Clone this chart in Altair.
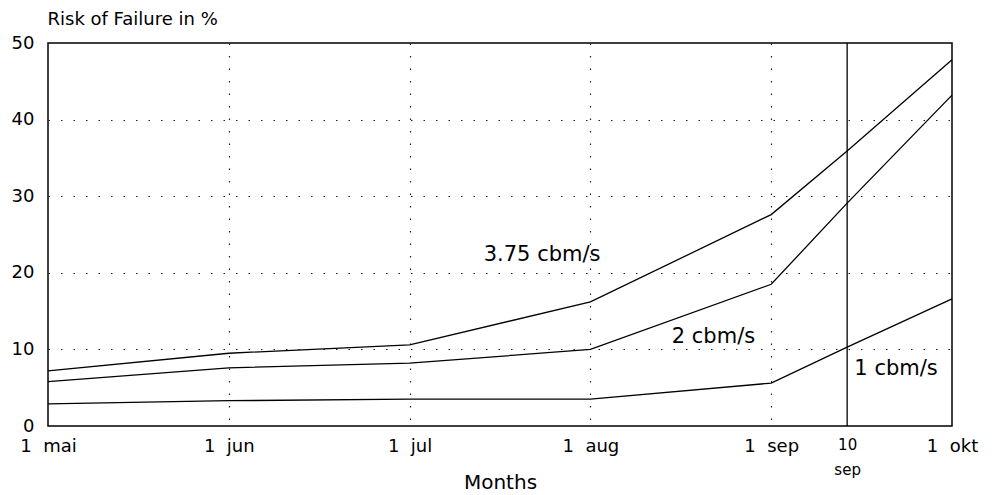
import altair as alt
import pandas as pd

# x positions (months since 1 mai; 10 sep sits between 1 sep and 1 okt)
tick_pos = [0, 1, 2, 3, 4, 4.42, 5]
tick_labels = ["1\u00a0\u00a0mai", "1\u00a0\u00a0jun", "1\u00a0\u00a0jul", "1\u00a0\u00a0aug",
               "1\u00a0\u00a0sep", "10|sep", "1\u00a0\u00a0okt"]

x_pts = [0, 1, 2, 3, 4, 4.42, 5]
risk_375 = [7.2, 9.5, 10.6, 16.2, 27.6, 35.9, 47.8]
risk_2 = [5.8, 7.6, 8.2, 10.0, 18.5, 29.1, 43.2]
risk_1 = [2.9, 3.3, 3.5, 3.5, 5.6, 10.3, 16.6]

series_names = ["3.75 cbm/s", "2 cbm/s", "1 cbm/s"]

ann_text = ["3.75 cbm/s", "2 cbm/s", "1 cbm/s"]
ann_x = [2.41, 3.45, 4.46]
ann_y = [21.6, 10.8, 6.7]

marker_x = [4.42]

rows = []
for name, vals in zip(series_names, [risk_375, risk_2, risk_1]):
    for xv, yv in zip(x_pts, vals):
        rows.append({"series": name, "x": xv, "y": yv})
df = pd.DataFrame(rows)
ann_df = pd.DataFrame({"text": ann_text, "x": ann_x, "y": ann_y})
rule_df = pd.DataFrame({"x": marker_x})

FONT = "DejaVu Sans"

expr_parts = []
for p, l in zip(tick_pos, tick_labels):
    if "|" in l:
        a, b = l.split("|")
        val = f"['{a}','{b}']"
    else:
        val = f"'{l}'"
    expr_parts.append(f"abs(datum.value - {p}) < 0.01 ? {val}")
label_expr = " : ".join(expr_parts) + " : ''"

x_scale = alt.Scale(domain=[0, 5], nice=False, zero=False)
y_scale = alt.Scale(domain=[0, 50], nice=False)

x_axis = alt.Axis(
    values=tick_pos,
    labelExpr=label_expr,
    labelFont=FONT,
    labelFontSize={"condition": {"test": "datum.value > 4.3 && datum.value < 4.5", "value": 15}, "value": 18},
    labelColor="black",
    labelPadding=11,
    labelLineHeight=25,
    labelBaseline="top",
    labelFlush=False,
    labelOverlap=False,
    ticks=False,
    domain=False,
    grid=True,
    gridColor="#222222",
    gridDash=[1.5, 11],
    gridWidth=1.2,
    gridOpacity={"condition": {"test": "datum.value > 0.5 && datum.value < 4.3", "value": 1}, "value": 0},
    title="Months",
    titleFont=FONT,
    titleFontSize=20,
    titleFontWeight="normal",
    titleColor="black",
    titleBaseline="alphabetic",
    titleY=62,
)

y_axis = alt.Axis(
    values=[0, 10, 20, 30, 40, 50],
    labelFont=FONT,
    labelFontSize=18,
    labelColor="black",
    labelPadding=14,
    ticks=False,
    domain=False,
    grid=True,
    gridColor="#222222",
    gridDash=[1.5, 11],
    gridWidth=1.2,
    gridOpacity={"condition": {"test": "datum.value > 5 && datum.value < 45", "value": 1}, "value": 0},
    title="Risk of Failure in %",
    titleFont=FONT,
    titleFontSize=18,
    titleFontWeight="normal",
    titleColor="black",
    titleAngle=0,
    titleAlign="left",
    titleBaseline="alphabetic",
    titleX=-1,
    titleY=-19,
)

lines = alt.Chart(df).mark_line(color="black", strokeWidth=1.3).encode(
    x=alt.X("x:Q", scale=x_scale, axis=x_axis),
    y=alt.Y("y:Q", scale=y_scale, axis=y_axis),
    detail="series:N",
)

rule = alt.Chart(rule_df).mark_rule(color="black", strokeWidth=1.3).encode(
    x=alt.X("x:Q", scale=x_scale),
)

ann = alt.Chart(ann_df).mark_text(
    align="left", baseline="alphabetic", font=FONT, fontSize=21, color="black"
).encode(
    x=alt.X("x:Q", scale=x_scale),
    y=alt.Y("y:Q", scale=y_scale),
    text="text:N",
)

chart = alt.layer(lines, rule, ann).properties(
    width=904,
    height=383,
    autosize=alt.AutoSizeParams(type="none"),
    padding={"left": 40, "top": 35, "right": 36, "bottom": 69},
    background="white",
).configure_view(stroke="black", strokeWidth=1.5)

chart.save("out.html", embed_options={"renderer": "svg", "actions": False})
